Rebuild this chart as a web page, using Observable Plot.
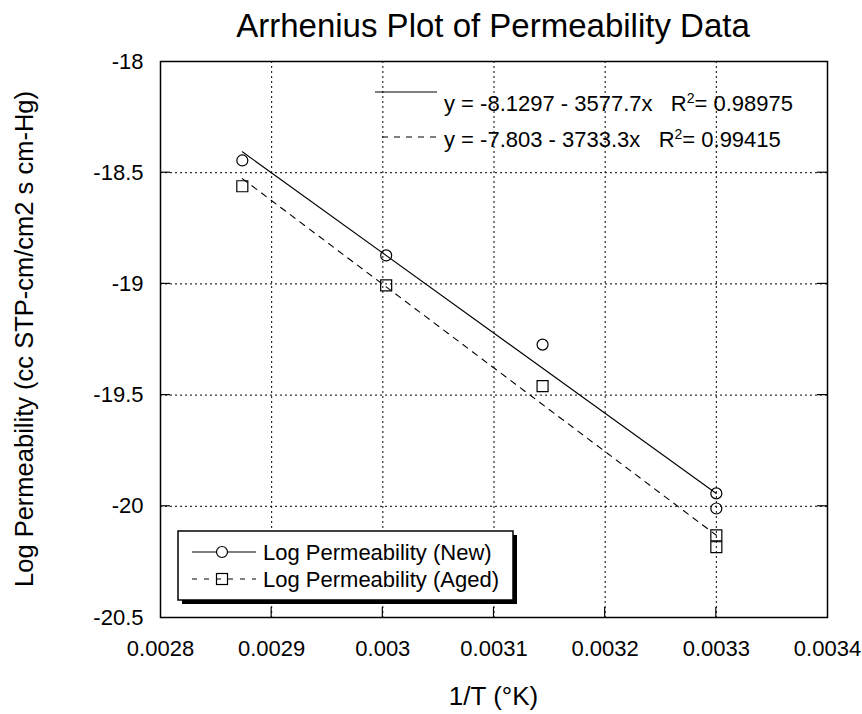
<!DOCTYPE html>
<html><head><meta charset="utf-8">
<script src="https://cdn.jsdelivr.net/npm/d3@7"></script>
<script src="https://cdn.jsdelivr.net/npm/@observablehq/plot@0.6"></script>
<style>
body{margin:0;background:#fff;font-family:"Liberation Sans",Arial,sans-serif}
#title{width:862px;height:44px;box-sizing:border-box;padding-left:124px;text-align:center;font-size:33px;line-height:52px;color:#000;white-space:nowrap;overflow:visible}
#chart svg{display:block}
</style></head><body>
<div id="title">Arrhenius Plot of Permeability Data</div>
<div id="chart"></div>
<script>
// Data
const invT = [0.0028736, 0.003003, 0.0031437, 0.0033, 0.0033];
const logPermNew = [-18.445, -18.872, -19.273, -19.942, -20.01];
const logPermAged = [-18.561, -19.007, -19.46, -20.131, -20.184];
const seriesNames = ["Log Permeability (New)", "Log Permeability (Aged)"];
const xTicks = [0.0028, 0.0029, 0.003, 0.0031, 0.0032, 0.0033, 0.0034];
const yTicks = [-20.5, -20, -19.5, -19, -18.5, -18];
const fitEquations = ["y = -8.1297 - 3577.7x", "y = -7.803 - 3733.3x"];
const fitR2 = ["0.98975", "0.99415"];
const xLabel = "1/T (°K)";
const yLabel = "Log Permeability (cc STP-cm/cm2 s cm-Hg)";

(function () {
const newData = invT.map((x, i) => ({x, y: logPermNew[i], series: seriesNames[0]}));
const agedData = invT.map((x, i) => ({x, y: logPermAged[i], series: seriesNames[1]}));

const FONT = "Liberation Sans, Arial, sans-serif";
const W = 862, H = 670, mT = 17, mB = 97, mL = 160, mR = 35;

const plot = Plot.plot({
  width: W, height: H, marginTop: mT, marginBottom: mB, marginLeft: mL, marginRight: mR,
  style: {fontFamily: FONT, fontSize: "22px", color: "black", background: "white", overflow: "visible"},
  x: {domain: [xTicks[0], xTicks[xTicks.length - 1]], ticks: xTicks, tickFormat: d => String(d), tickSize: 0, tickPadding: 23, label: null},
  y: {domain: [yTicks[0], yTicks[yTicks.length - 1]], ticks: yTicks, tickFormat: d => String(d), tickSize: 0, tickPadding: 17, label: null},
  marks: [
    Plot.ruleX(xTicks, {stroke: "black", strokeWidth: 1, strokeDasharray: "2,3"}),
    Plot.ruleY(yTicks, {stroke: "black", strokeWidth: 1, strokeDasharray: "2,3"}),
    Plot.linearRegressionY(newData, {x: "x", y: "y", stroke: "black", strokeWidth: 1.1, ci: 0}),
    Plot.linearRegressionY(agedData, {x: "x", y: "y", stroke: "black", strokeWidth: 1.1, strokeDasharray: "6,6", ci: 0}),
    Plot.dot(newData, {x: "x", y: "y", r: 5.5, stroke: "black", fill: "none", strokeWidth: 1.2}),
    Plot.dot(agedData, {x: "x", y: "y", symbol: "square", r: 6.2, stroke: "black", fill: "none", strokeWidth: 1.2}),
    Plot.frame({stroke: "black", strokeWidth: 1.5})
  ]
});
document.getElementById("chart").appendChild(plot);

const svg = d3.select(plot);
const xs = plot.scale("x"), ys = plot.scale("y");
const fLeft = mL, fRight = W - mR, fTop = mT, fBottom = H - mB;

// inner tick marks (bottom, left, right)
const tk = svg.append("g").attr("stroke", "black").attr("stroke-width", 1.2);
xTicks.slice(1, -1).forEach(t => {
  const px = xs.apply(t);
  tk.append("line").attr("x1", px).attr("x2", px).attr("y1", fBottom).attr("y2", fBottom - 10);
});
yTicks.slice(1, -1).forEach(t => {
  const py = ys.apply(t);
  tk.append("line").attr("x1", fLeft).attr("x2", fLeft + 10).attr("y1", py).attr("y2", py);
  tk.append("line").attr("x1", fRight).attr("x2", fRight - 10).attr("y1", py).attr("y2", py);
});

// axis titles
svg.append("text").attr("x", (fLeft + fRight) / 2).attr("y", 652).attr("dy", "0.35em")
  .attr("text-anchor", "middle").attr("font-family", FONT).attr("font-size", 26).attr("fill", "black").text(xLabel);
svg.append("text").attr("transform", `translate(24,${(fTop + fBottom) / 2}) rotate(-90)`).attr("dy", "0.35em")
  .attr("text-anchor", "middle").attr("font-family", FONT).attr("font-size", 25.5).attr("fill", "black").text(yLabel);

// regression equations
const eqPos = [{line: 48, text: 59, x0: 375}, {line: 93, text: 95, x0: 382}];
fitEquations.forEach((eq, i) => {
  const g = svg.append("g");
  g.append("line").attr("x1", eqPos[i].x0).attr("x2", 437).attr("y1", eqPos[i].line).attr("y2", eqPos[i].line)
    .attr("stroke", "black").attr("stroke-width", 1.1).attr("stroke-dasharray", i === 1 ? "6,6" : null);
  const t = g.append("text").attr("x", 444).attr("y", eqPos[i].text).attr("dy", "0.35em")
    .attr("text-anchor", "start").attr("font-family", FONT).attr("font-size", 22).attr("fill", "black");
  t.append("tspan").text(eq + "\u00a0\u00a0\u00a0R");
  t.append("tspan").attr("font-size", 14).attr("dy", "-0.55em").text("2");
  t.append("tspan").attr("dy", "0.35em").text("= " + fitR2[i]);
});

// legend
const lg = svg.append("g");
const bx = 178, by = 487, bw = 335, bh = 69;
lg.append("rect").attr("x", bx + 4).attr("y", by + 4).attr("width", bw).attr("height", bh).attr("fill", "black");
lg.append("rect").attr("x", bx).attr("y", by).attr("width", bw).attr("height", bh).attr("fill", "white")
  .attr("stroke", "black").attr("stroke-width", 1.5);
seriesNames.forEach((name, i) => {
  const cy = by + 21 + i * 27;
  lg.append("line").attr("x1", 192).attr("x2", 256).attr("y1", cy).attr("y2", cy)
    .attr("stroke", "black").attr("stroke-width", 1.1).attr("stroke-dasharray", i === 1 ? "5,7" : null);
  if (i === 0) {
    lg.append("circle").attr("cx", 222).attr("cy", cy).attr("r", 5.5).attr("fill", "white").attr("stroke", "black").attr("stroke-width", 1.2);
  } else {
    lg.append("rect").attr("x", 222 - 5.5).attr("y", cy - 5.5).attr("width", 11).attr("height", 11)
      .attr("fill", "none").attr("stroke", "black").attr("stroke-width", 1.2);
  }
  lg.append("text").attr("x", 263).attr("y", cy).attr("dy", "0.35em").attr("text-anchor", "start")
    .attr("font-family", FONT).attr("font-size", 22).attr("fill", "black").text(name);
});
})();
</script>
</body></html>
